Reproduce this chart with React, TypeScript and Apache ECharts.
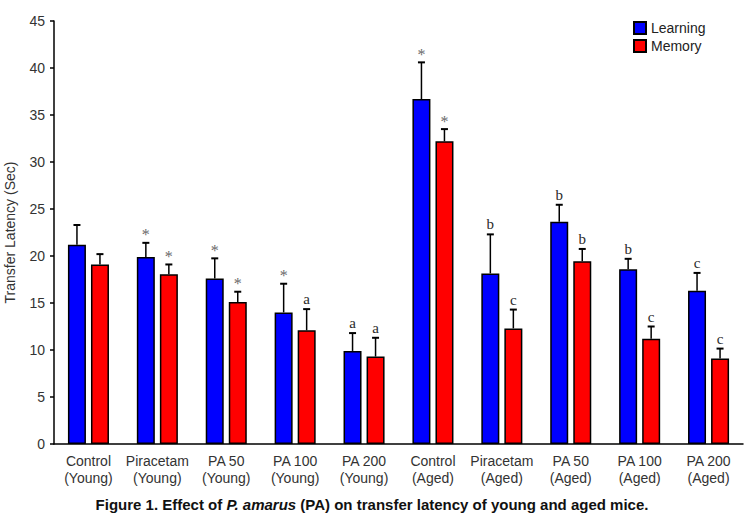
import React, { useEffect, useRef } from "react";
import * as echarts from "echarts";

const groups = [
  "Control\n(Young)", "Piracetam\n(Young)", "PA 50\n(Young)", "PA 100\n(Young)", "PA 200\n(Young)",
  "Control\n(Aged)", "Piracetam\n(Aged)", "PA 50\n(Aged)", "PA 100\n(Aged)", "PA 200\n(Aged)",
];
const learningMean = [21.2, 19.9, 17.6, 14.0, 9.9, 36.7, 18.15, 23.65, 18.6, 16.3];
const learningSem = [2.1, 1.5, 2.15, 3.05, 1.9, 3.9, 4.15, 1.8, 1.1, 1.9];
const memoryMean = [19.1, 18.05, 15.1, 12.1, 9.3, 32.2, 12.3, 19.45, 11.2, 9.1];
const memorySem = [1.1, 1.05, 1.1, 2.25, 2.0, 1.3, 2.0, 1.3, 1.3, 1.05];
const learningMarks = ["", "*", "*", "*", "a", "*", "b", "b", "b", "c"];
const memoryMarks = ["", "*", "*", "a", "a", "*", "c", "b", "c", "c"];

const FONT = "'Liberation Sans', Arial, sans-serif";

function errorSeries(name: string, means: number[], sems: number[], marks: string[], offset: number) {
  return {
    type: "custom",
    name: name + " SEM",
    z: 5,
    data: means.map((m, i) => [i, m, m + sems[i]]),
    renderItem: (params: any, api: any) => {
      const base = api.coord([api.value(0), api.value(1)]);
      const top = api.coord([api.value(0), api.value(2)]);
      const x = base[0] + offset;
      const mark = marks[params.dataIndex];
      const isStar = mark === "*";
      const children: any[] = [
        { type: "line", shape: { x1: x, y1: base[1], x2: x, y2: top[1] }, style: { stroke: "#000", lineWidth: 1.5 } },
        { type: "line", shape: { x1: x - 3.5, y1: top[1], x2: x + 3.5, y2: top[1] }, style: { stroke: "#000", lineWidth: 2 } },
      ];
      if (mark) {
        children.push({
          type: "text",
          style: {
            text: mark,
            x: x,
            y: top[1] - (isStar ? 8 : 10),
            align: "center",
            verticalAlign: "middle",
            fontFamily: "'Liberation Serif', serif",
            fontSize: isStar ? 16 : 15,
            fill: isStar ? "#6a6a6a" : "#2a2a2a",
          },
        });
      }
      return { type: "group", children };
    },
  };
}

export default function App() {
  const ref = useRef<HTMLDivElement>(null);
  useEffect(() => {
    if (!ref.current) return;
    const chart = echarts.init(ref.current, undefined, { renderer: "svg" });
    chart.setOption({
      animation: false,
      grid: { left: 54, right: 1, top: 21, bottom: 74, containLabel: false, outerBoundsMode: "none" },
      legend: {
        data: ["Learning", "Memory"],
        orient: "vertical",
        left: 628,
        top: 16,
        itemWidth: 12,
        itemHeight: 12,
        itemGap: 4,
        textStyle: { fontFamily: FONT, fontSize: 14, color: "#222" },
        icon: "rect",
      },
      xAxis: {
        type: "category",
        data: groups,
        axisLine: { lineStyle: { color: "#000", width: 1.5 } },
        axisTick: { length: 5, lineStyle: { color: "#000", width: 1.5 } },
        axisLabel: { fontFamily: FONT, fontSize: 14, color: "#333", lineHeight: 17, margin: 8, interval: 0 },
      },
      yAxis: {
        type: "value",
        min: 0,
        max: 45,
        interval: 5,
        name: "Transfer Latency (Sec)",
        nameLocation: "middle",
        nameGap: 37,
        nameTextStyle: { fontFamily: FONT, fontSize: 14, color: "#333" },
        splitLine: { show: false },
        axisLine: { show: true, lineStyle: { color: "#000", width: 1.5 } },
        axisTick: { show: true, length: 4, lineStyle: { color: "#000", width: 1.5 } },
        axisLabel: { fontFamily: FONT, fontSize: 14, color: "#333", margin: 9 },
      },
      series: [
        {
          type: "bar",
          name: "Learning",
          data: learningMean,
          barWidth: 18,
          barGap: "28%",
          itemStyle: { color: "#0000ff", borderColor: "#000", borderWidth: 1.5 },
        },
        {
          type: "bar",
          name: "Memory",
          data: memoryMean,
          barWidth: 18,
          barGap: "28%",
          itemStyle: { color: "#ff0000", borderColor: "#000", borderWidth: 1.5 },
        },
        errorSeries("Learning", learningMean, learningSem, learningMarks, -11.5),
        errorSeries("Memory", memoryMean, memorySem, memoryMarks, 11.5),
      ],
      graphic: [
        {
          type: "text",
          left: "center",
          top: 497,
          style: {
            text: "{b|Figure 1. Effect of }{i|P. amarus}{b| (PA) on transfer latency of young and aged mice.}",
            rich: {
              b: { fontFamily: FONT, fontSize: 15, fontWeight: "bold", fill: "#111" },
              i: { fontFamily: FONT, fontSize: 15, fontWeight: "bold", fontStyle: "italic", fill: "#111" },
            },
          },
        },
      ],
    });
    return () => chart.dispose();
  }, []);
  return <div ref={ref} style={{ width: 744, height: 518, position: "absolute", left: 0, top: 0 }} />;
}
